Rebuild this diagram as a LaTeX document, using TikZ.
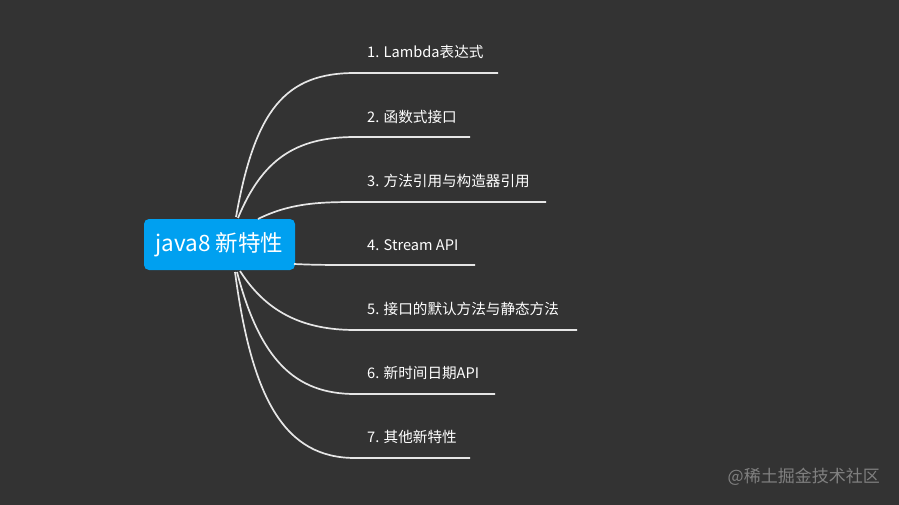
\documentclass[tikz,border=0pt]{standalone}
\usepackage{fontspec}
\setmainfont{Noto Sans CJK SC}
\definecolor{bg}{HTML}{333333}
\definecolor{rootblue}{HTML}{00A0F0}
\definecolor{linec}{HTML}{E6E6E6}
\definecolor{wm}{HTML}{808080}
\begin{document}
\begin{tikzpicture}[x=1pt,y=-1pt,
  branch/.style={draw=linec,line width=1.7pt},
  leaf/.style={anchor=west,text=white,font=\fontsize{14.6}{16}\selectfont,inner sep=0pt},
  rootbox/.style={fill=rootblue,rounded corners=5pt,minimum width=151pt,minimum height=51pt,text=white,font=\fontsize{22.5}{26}\selectfont,inner sep=0pt}]
\fill[bg] (0,0) rectangle (899,505);
\useasboundingbox (0,0) rectangle (899,505);
% root
\node[rootbox] (root) at (219.5,244.5) {java8 新特性};
% start coordinates near root
\coordinate (s1) at (236,217);
\coordinate (s2) at (238,218);
\coordinate (s3) at (258,219);
\coordinate (s4) at (294,264);
\coordinate (s5) at (240,271);
\coordinate (s6) at (237,272);
\coordinate (s7) at (235,272);
% underline coordinates
\coordinate (a1) at (355,73);  \coordinate (b1) at (498,73);
\coordinate (a2) at (355,137); \coordinate (b2) at (470,137);
\coordinate (a3) at (355,202); \coordinate (b3) at (546,202);
\coordinate (a4) at (355,265); \coordinate (b4) at (475,265);
\coordinate (a5) at (355,330); \coordinate (b5) at (577,330);
\coordinate (a6) at (355,394); \coordinate (b6) at (495,394);
\coordinate (a7) at (355,458); \coordinate (b7) at (470,458);
% leaves
\node[leaf] (l1) at (367,52) {1. Lambda表达式};
\node[leaf] (l2) at (367,117) {2. 函数式接口};
\node[leaf] (l3) at (367,181) {3. 方法引用与构造器引用};
\node[leaf] (l4) at (367,245) {4. Stream API};
\node[leaf] (l5) at (367,309) {5. 接口的默认方法与静态方法};
\node[leaf] (l6) at (367,373) {6. 新时间日期API};
\node[leaf] (l7) at (367,437) {7. 其他新特性};
% connectors
\draw[branch] (s1) .. controls (255,110) and (285,73) .. (a1) -- (b1);
\draw[branch] (s2) .. controls (262,160) and (295,137) .. (a2) -- (b2);
\draw[branch] (s3) .. controls (290,203) and (320,202) .. (a3) -- (b3);
\draw[branch] (s4) .. controls (315,265) and (330,265) .. (a4) -- (b4);
\draw[branch] (s5) .. controls (265,310) and (300,330) .. (a5) -- (b5);
\draw[branch] (s6) .. controls (260,360) and (295,394) .. (a6) -- (b6);
\draw[branch] (s7) .. controls (252,400) and (285,458) .. (a7) -- (b7);
% watermark
\node[anchor=east,text=wm,font=\fontsize{17}{20}\selectfont,inner sep=0pt] (wmk) at (880,477) {@稀土掘金技术社区};
\end{tikzpicture}
\end{document}
